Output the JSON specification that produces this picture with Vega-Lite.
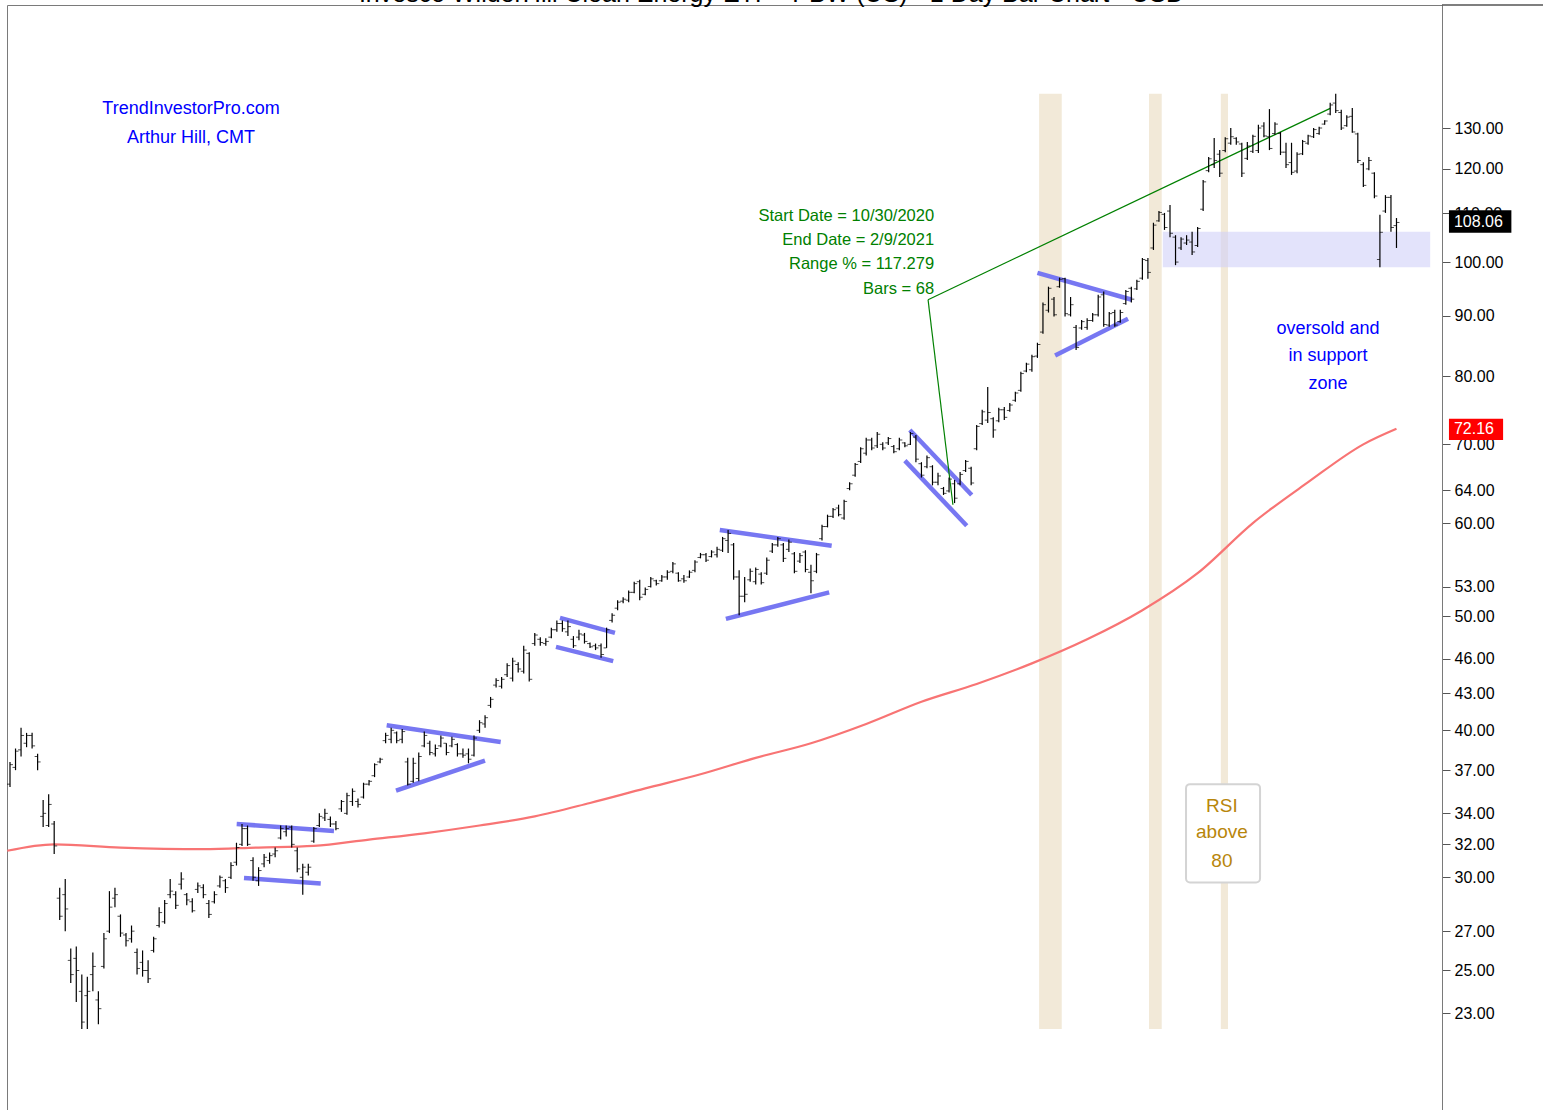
{
"$schema": "https://vega.github.io/schema/vega-lite/v6.json",
"width": 1435,
"height": 1106,
"autosize": "none",
"padding": {"left": 7, "top": 5, "right": 101, "bottom": 0},
"background": "white",
"config": {"view": {"stroke": "#7a7a7a", "strokeWidth": 1}, "font": "Liberation Sans"},
"title": {"text": "Invesco WilderHill Clean Energy ETF - PBW (US) - 1 Day Bar Chart - USD", "fontSize": 25, "fontWeight": "normal", "font": "Liberation Sans", "color": "#000000", "anchor": "middle", "frame": "group", "offset": 2, "dx": 47, "dy": 5},
"datasets": {
"bars": [
{"i":0,"o":36.0,"h":37.6,"l":35.8,"c":37.4},{"i":1,"o":37.2,"h":38.6,"l":37.0,"c":38.4},{"i":2,"o":38.5,"h":40.2,"l":38.0,"c":39.6},{"i":3,"o":39.0,"h":39.8,"l":38.7,"c":39.6},{"i":4,"o":39.6,"h":39.8,"l":38.6,"c":38.8},{"i":5,"o":38.0,"h":38.2,"l":37.0,"c":37.6},{"i":6,"o":33.8,"h":34.9,"l":33.1,"c":34.0},{"i":7,"o":33.2,"h":35.3,"l":33.1,"c":34.6},{"i":8,"o":33.3,"h":33.5,"l":31.4,"c":31.9},{"i":9,"o":28.8,"h":29.4,"l":27.6,"c":27.8},
{"i":10,"o":29.0,"h":29.9,"l":27.0,"c":28.2},{"i":11,"o":25.5,"h":26.1,"l":24.4,"c":24.8},{"i":12,"o":25.6,"h":26.2,"l":23.5,"c":25.0},{"i":13,"o":24.0,"h":24.8,"l":22.3,"c":22.6},{"i":14,"o":23.8,"h":24.7,"l":22.3,"c":24.0},{"i":15,"o":24.8,"h":25.9,"l":24.0,"c":25.2},{"i":16,"o":23.6,"h":24.0,"l":22.5,"c":23.2},{"i":17,"o":25.2,"h":26.9,"l":25.1,"c":26.6},{"i":18,"o":27.0,"h":29.2,"l":26.9,"c":28.3},{"i":19,"o":28.8,"h":29.4,"l":28.3,"c":29.0},
{"i":20,"o":27.8,"h":27.9,"l":26.7,"c":26.9},{"i":21,"o":26.8,"h":26.9,"l":26.2,"c":26.5},{"i":22,"o":26.6,"h":27.3,"l":26.4,"c":27.0},{"i":23,"o":25.9,"h":26.1,"l":24.8,"c":25.1},{"i":24,"o":25.4,"h":26.0,"l":24.7,"c":25.0},{"i":25,"o":25.0,"h":25.5,"l":24.4,"c":24.6},{"i":26,"o":26.0,"h":26.7,"l":25.9,"c":26.6},{"i":27,"o":27.3,"h":28.3,"l":27.2,"c":28.0},{"i":28,"o":27.5,"h":28.7,"l":27.4,"c":28.5},{"i":29,"o":29.0,"h":29.9,"l":28.8,"c":29.2},
{"i":30,"o":29.0,"h":29.2,"l":28.2,"c":28.4},{"i":31,"o":29.6,"h":30.3,"l":29.3,"c":29.9},{"i":32,"o":29.0,"h":29.1,"l":28.4,"c":28.7},{"i":33,"o":28.6,"h":28.8,"l":28.0,"c":28.1},{"i":34,"o":29.3,"h":29.7,"l":29.1,"c":29.5},{"i":35,"o":29.4,"h":29.6,"l":28.8,"c":29.0},{"i":36,"o":28.5,"h":28.7,"l":27.7,"c":27.9},{"i":37,"o":28.6,"h":29.2,"l":28.5,"c":29.0},{"i":38,"o":29.5,"h":30.1,"l":29.4,"c":30.0},{"i":39,"o":29.8,"h":29.9,"l":29.1,"c":29.4},
{"i":40,"o":30.0,"h":30.9,"l":29.9,"c":30.7},{"i":41,"o":30.9,"h":32.1,"l":30.7,"c":31.8},{"i":42,"o":32.0,"h":33.3,"l":31.9,"c":33.0},{"i":43,"o":33.0,"h":33.2,"l":31.9,"c":32.0},{"i":44,"o":31.0,"h":31.2,"l":29.8,"c":30.0},{"i":45,"o":29.8,"h":30.6,"l":29.5,"c":30.4},{"i":46,"o":30.8,"h":31.4,"l":30.6,"c":31.2},{"i":47,"o":31.0,"h":31.5,"l":30.8,"c":31.3},{"i":48,"o":31.4,"h":31.8,"l":31.2,"c":31.6},{"i":49,"o":32.4,"h":33.2,"l":32.3,"c":33.0},
{"i":50,"o":32.8,"h":33.2,"l":32.5,"c":33.0},{"i":51,"o":33.1,"h":33.2,"l":31.8,"c":32.0},{"i":52,"o":31.6,"h":31.8,"l":30.3,"c":30.5},{"i":53,"o":30.0,"h":30.8,"l":29.0,"c":30.6},{"i":54,"o":30.3,"h":30.8,"l":30.1,"c":30.6},{"i":55,"o":32.2,"h":33.1,"l":32.1,"c":33.0},{"i":56,"o":33.2,"h":34.0,"l":33.1,"c":33.8},{"i":57,"o":33.7,"h":34.3,"l":33.5,"c":34.0},{"i":58,"o":33.6,"h":33.8,"l":33.1,"c":33.3},{"i":59,"o":33.3,"h":33.5,"l":32.9,"c":33.0},
{"i":60,"o":34.3,"h":34.9,"l":34.1,"c":34.8},{"i":61,"o":34.0,"h":35.4,"l":33.9,"c":35.2},{"i":62,"o":34.8,"h":35.7,"l":34.5,"c":35.5},{"i":63,"o":34.8,"h":35.0,"l":34.4,"c":34.6},{"i":64,"o":35.1,"h":36.1,"l":35.0,"c":36.0},{"i":65,"o":36.0,"h":36.3,"l":35.9,"c":36.2},{"i":66,"o":36.6,"h":37.5,"l":36.5,"c":37.4},{"i":67,"o":37.6,"h":37.9,"l":37.5,"c":37.8},{"i":68,"o":39.2,"h":39.8,"l":39.0,"c":39.6},{"i":69,"o":39.3,"h":40.2,"l":39.0,"c":40.0},
{"i":70,"o":39.8,"h":39.9,"l":39.0,"c":39.2},{"i":71,"o":39.3,"h":40.1,"l":39.0,"c":39.9},{"i":72,"o":37.6,"h":37.9,"l":35.9,"c":36.0},{"i":73,"o":36.2,"h":37.9,"l":36.1,"c":37.5},{"i":74,"o":36.4,"h":38.3,"l":36.2,"c":38.0},{"i":75,"o":38.8,"h":39.9,"l":38.7,"c":39.6},{"i":76,"o":39.0,"h":39.2,"l":38.1,"c":38.3},{"i":77,"o":38.2,"h":38.9,"l":38.0,"c":38.6},{"i":78,"o":38.8,"h":39.6,"l":38.7,"c":39.4},{"i":79,"o":39.0,"h":39.0,"l":38.1,"c":38.3},
{"i":80,"o":38.8,"h":39.5,"l":38.7,"c":39.3},{"i":81,"o":38.9,"h":39.0,"l":38.0,"c":38.2},{"i":82,"o":38.2,"h":38.6,"l":37.9,"c":38.1},{"i":83,"o":38.2,"h":38.6,"l":37.5,"c":37.8},{"i":84,"o":38.1,"h":39.6,"l":38.0,"c":39.4},{"i":85,"o":40.0,"h":40.8,"l":39.8,"c":40.6},{"i":86,"o":40.5,"h":41.2,"l":40.2,"c":41.0},{"i":87,"o":42.0,"h":42.7,"l":41.8,"c":42.5},{"i":88,"o":43.7,"h":44.3,"l":43.5,"c":44.1},{"i":89,"o":43.6,"h":44.4,"l":43.4,"c":44.2},
{"i":90,"o":44.6,"h":45.6,"l":44.4,"c":45.4},{"i":91,"o":44.3,"h":46.1,"l":44.0,"c":45.8},{"i":92,"o":45.5,"h":45.7,"l":44.8,"c":45.1},{"i":93,"o":44.9,"h":47.2,"l":44.7,"c":46.8},{"i":94,"o":46.5,"h":46.6,"l":44.0,"c":44.2},{"i":95,"o":47.4,"h":48.4,"l":47.2,"c":48.2},{"i":96,"o":47.8,"h":48.0,"l":47.2,"c":47.5},{"i":97,"o":47.4,"h":47.9,"l":47.2,"c":47.6},{"i":98,"o":48.0,"h":48.9,"l":47.9,"c":48.7},{"i":99,"o":48.7,"h":49.6,"l":48.5,"c":49.3},
{"i":100,"o":49.3,"h":49.6,"l":48.5,"c":48.8},{"i":101,"o":48.5,"h":49.6,"l":48.1,"c":49.0},{"i":102,"o":47.8,"h":48.1,"l":47.0,"c":47.2},{"i":103,"o":48.0,"h":48.7,"l":47.7,"c":48.3},{"i":104,"o":48.2,"h":48.4,"l":47.4,"c":47.6},{"i":105,"o":47.4,"h":47.5,"l":47.0,"c":47.1},{"i":106,"o":47.2,"h":47.4,"l":46.8,"c":47.0},{"i":107,"o":47.2,"h":47.4,"l":46.1,"c":46.4},{"i":108,"o":47.0,"h":48.9,"l":47.0,"c":48.7},{"i":109,"o":49.6,"h":50.3,"l":49.4,"c":50.1},
{"i":110,"o":50.8,"h":51.6,"l":50.6,"c":51.4},{"i":111,"o":51.5,"h":51.9,"l":51.3,"c":51.7},{"i":112,"o":51.6,"h":52.6,"l":51.4,"c":52.4},{"i":113,"o":52.4,"h":53.5,"l":52.3,"c":53.3},{"i":114,"o":53.5,"h":53.7,"l":51.6,"c":51.9},{"i":115,"o":52.2,"h":52.9,"l":52.1,"c":52.7},{"i":116,"o":53.0,"h":54.0,"l":52.9,"c":53.8},{"i":117,"o":53.6,"h":53.7,"l":53.1,"c":53.3},{"i":118,"o":53.6,"h":54.2,"l":53.5,"c":54.0},{"i":119,"o":54.0,"h":54.7,"l":53.7,"c":54.5},
{"i":120,"o":54.6,"h":55.6,"l":54.4,"c":55.4},{"i":121,"o":54.4,"h":54.5,"l":53.5,"c":53.6},{"i":122,"o":53.8,"h":54.2,"l":53.4,"c":53.6},{"i":123,"o":54.0,"h":54.7,"l":53.9,"c":54.5},{"i":124,"o":54.7,"h":55.8,"l":54.5,"c":55.6},{"i":125,"o":56.1,"h":56.6,"l":56.0,"c":56.4},{"i":126,"o":56.4,"h":56.6,"l":55.6,"c":55.8},{"i":127,"o":56.2,"h":56.9,"l":56.1,"c":56.7},{"i":128,"o":56.4,"h":57.3,"l":56.1,"c":57.0},{"i":129,"o":56.9,"h":58.4,"l":56.7,"c":58.2},
{"i":130,"o":58.0,"h":59.2,"l":56.6,"c":58.8},{"i":131,"o":57.5,"h":57.7,"l":53.7,"c":54.0},{"i":132,"o":54.0,"h":54.7,"l":50.1,"c":52.0},{"i":133,"o":52.0,"h":54.0,"l":51.4,"c":52.2},{"i":134,"o":53.7,"h":54.9,"l":53.5,"c":54.6},{"i":135,"o":53.5,"h":55.0,"l":53.2,"c":54.8},{"i":136,"o":54.3,"h":54.5,"l":53.2,"c":53.4},{"i":137,"o":54.4,"h":56.1,"l":54.2,"c":55.8},{"i":138,"o":56.8,"h":57.7,"l":56.6,"c":57.5},{"i":139,"o":57.5,"h":58.4,"l":57.3,"c":58.2},
{"i":140,"o":57.5,"h":57.7,"l":55.6,"c":56.0},{"i":141,"o":57.0,"h":58.1,"l":56.7,"c":57.8},{"i":142,"o":56.5,"h":56.7,"l":54.4,"c":54.6},{"i":143,"o":55.7,"h":56.6,"l":55.5,"c":56.3},{"i":144,"o":56.7,"h":56.9,"l":54.5,"c":54.8},{"i":145,"o":54.5,"h":55.3,"l":52.3,"c":53.6},{"i":146,"o":54.6,"h":56.6,"l":54.4,"c":56.4},{"i":147,"o":58.2,"h":59.8,"l":58.0,"c":59.6},{"i":148,"o":59.6,"h":61.0,"l":59.5,"c":60.8},{"i":149,"o":60.8,"h":61.8,"l":60.6,"c":61.6},
{"i":150,"o":61.8,"h":62.2,"l":60.8,"c":61.0},{"i":151,"o":60.6,"h":62.8,"l":60.4,"c":62.6},{"i":152,"o":64.2,"h":65.0,"l":64.0,"c":64.8},{"i":153,"o":65.9,"h":67.5,"l":65.7,"c":67.3},{"i":154,"o":67.7,"h":69.6,"l":67.5,"c":69.4},{"i":155,"o":68.8,"h":70.9,"l":68.5,"c":70.6},{"i":156,"o":70.6,"h":70.9,"l":69.2,"c":69.5},{"i":157,"o":69.8,"h":71.7,"l":69.5,"c":71.4},{"i":158,"o":70.0,"h":70.3,"l":69.2,"c":69.5},{"i":159,"o":70.2,"h":71.0,"l":69.9,"c":70.8},
{"i":160,"o":69.7,"h":69.9,"l":68.8,"c":69.0},{"i":161,"o":69.4,"h":70.9,"l":69.2,"c":70.6},{"i":162,"o":70.2,"h":70.3,"l":69.6,"c":69.8},{"i":163,"o":70.0,"h":71.7,"l":69.9,"c":71.5},{"i":164,"o":71.0,"h":71.3,"l":67.6,"c":68.0},{"i":165,"o":67.4,"h":67.6,"l":65.6,"c":65.9},{"i":166,"o":67.0,"h":68.5,"l":66.8,"c":68.2},{"i":167,"o":67.0,"h":67.2,"l":64.6,"c":65.0},{"i":168,"o":65.0,"h":66.2,"l":64.6,"c":65.8},{"i":169,"o":64.2,"h":64.4,"l":63.4,"c":63.6},
{"i":170,"o":63.9,"h":65.6,"l":63.7,"c":65.4},{"i":171,"o":64.8,"h":65.3,"l":62.4,"c":63.0},{"i":172,"o":64.8,"h":66.3,"l":64.6,"c":66.0},{"i":173,"o":66.5,"h":67.9,"l":66.3,"c":67.7},{"i":174,"o":66.8,"h":67.0,"l":64.6,"c":64.9},{"i":175,"o":69.4,"h":72.7,"l":69.2,"c":72.5},{"i":176,"o":72.9,"h":74.9,"l":72.7,"c":74.6},{"i":177,"o":73.4,"h":78.3,"l":73.0,"c":74.5},{"i":178,"o":73.6,"h":73.8,"l":70.9,"c":72.0},{"i":179,"o":73.3,"h":75.2,"l":73.1,"c":74.9},
{"i":180,"o":74.9,"h":75.3,"l":73.4,"c":73.8},{"i":181,"o":74.8,"h":75.9,"l":74.6,"c":75.6},{"i":182,"o":76.3,"h":77.6,"l":76.1,"c":77.4},{"i":183,"o":77.8,"h":80.7,"l":77.6,"c":80.4},{"i":184,"o":80.8,"h":82.1,"l":80.6,"c":81.9},{"i":185,"o":81.0,"h":83.4,"l":80.7,"c":83.1},{"i":186,"o":83.2,"h":85.4,"l":82.9,"c":85.1},{"i":187,"o":87.2,"h":92.4,"l":86.9,"c":92.0},{"i":188,"o":91.0,"h":95.3,"l":90.6,"c":95.0},{"i":189,"o":93.0,"h":93.4,"l":89.9,"c":90.2},
{"i":190,"o":95.3,"h":97.0,"l":95.1,"c":96.7},{"i":191,"o":96.8,"h":97.0,"l":89.9,"c":90.4},{"i":192,"o":90.2,"h":93.4,"l":89.9,"c":92.0},{"i":193,"o":88.0,"h":88.4,"l":84.2,"c":84.6},{"i":194,"o":87.9,"h":89.3,"l":87.6,"c":89.0},{"i":195,"o":88.0,"h":89.6,"l":87.6,"c":89.2},{"i":196,"o":89.2,"h":90.5,"l":89.0,"c":90.2},{"i":197,"o":90.2,"h":93.8,"l":89.9,"c":93.4},{"i":198,"o":93.8,"h":94.4,"l":88.1,"c":88.5},{"i":199,"o":88.4,"h":90.7,"l":88.1,"c":90.4},
{"i":200,"o":90.6,"h":91.1,"l":88.1,"c":88.4},{"i":201,"o":89.0,"h":91.1,"l":88.8,"c":90.6},{"i":202,"o":92.2,"h":94.7,"l":92.0,"c":94.4},{"i":203,"o":95.0,"h":95.3,"l":92.4,"c":93.0},{"i":204,"o":94.9,"h":96.6,"l":94.7,"c":96.3},{"i":205,"o":96.9,"h":100.8,"l":96.6,"c":100.5},{"i":206,"o":100.3,"h":100.8,"l":96.8,"c":98.0},{"i":207,"o":102.8,"h":108.0,"l":102.4,"c":107.5},{"i":208,"o":108.4,"h":110.5,"l":108.2,"c":110.2},{"i":209,"o":109.8,"h":110.1,"l":106.5,"c":107.0},
{"i":210,"o":110.5,"h":111.8,"l":105.0,"c":105.8},{"i":211,"o":105.0,"h":105.4,"l":99.4,"c":100.0},{"i":212,"o":102.8,"h":105.0,"l":102.4,"c":104.6},{"i":213,"o":103.8,"h":105.4,"l":103.4,"c":104.4},{"i":214,"o":104.0,"h":106.1,"l":101.4,"c":102.0},{"i":215,"o":103.3,"h":107.1,"l":103.0,"c":106.8},{"i":216,"o":110.9,"h":117.4,"l":110.5,"c":117.0},{"i":217,"o":119.6,"h":122.8,"l":119.2,"c":122.4},{"i":218,"o":121.0,"h":127.5,"l":120.2,"c":122.0},{"i":219,"o":123.5,"h":124.5,"l":118.1,"c":119.0},
{"i":220,"o":124.4,"h":127.7,"l":124.0,"c":127.3},{"i":221,"o":126.2,"h":130.0,"l":125.8,"c":127.8},{"i":222,"o":127.4,"h":127.7,"l":125.8,"c":126.5},{"i":223,"o":126.0,"h":126.3,"l":118.1,"c":119.0},{"i":224,"o":122.5,"h":126.5,"l":122.1,"c":125.5},{"i":225,"o":124.2,"h":128.3,"l":123.8,"c":127.9},{"i":226,"o":124.4,"h":130.8,"l":123.8,"c":130.0},{"i":227,"o":130.5,"h":131.5,"l":127.7,"c":128.0},{"i":228,"o":127.8,"h":134.9,"l":124.5,"c":124.9},{"i":229,"o":128.6,"h":131.5,"l":128.3,"c":131.0},
{"i":230,"o":128.6,"h":129.0,"l":123.3,"c":124.0},{"i":231,"o":124.0,"h":126.3,"l":120.2,"c":121.0},{"i":232,"o":121.5,"h":126.3,"l":118.6,"c":119.2},{"i":233,"o":119.5,"h":124.0,"l":119.0,"c":123.5},{"i":234,"o":123.6,"h":127.0,"l":123.3,"c":126.6},{"i":235,"o":126.2,"h":128.3,"l":125.8,"c":128.0},{"i":236,"o":127.8,"h":130.0,"l":127.5,"c":129.6},{"i":237,"o":128.6,"h":130.3,"l":128.3,"c":130.0},{"i":238,"o":131.0,"h":132.0,"l":130.8,"c":131.8},{"i":239,"o":133.6,"h":136.6,"l":133.3,"c":136.0},
{"i":240,"o":136.5,"h":139.0,"l":133.9,"c":134.5},{"i":241,"o":134.0,"h":134.7,"l":129.5,"c":130.0},{"i":242,"o":130.6,"h":133.3,"l":130.3,"c":132.8},{"i":243,"o":133.0,"h":135.2,"l":128.8,"c":129.0},{"i":244,"o":128.5,"h":128.8,"l":121.4,"c":122.0},{"i":245,"o":121.0,"h":121.6,"l":115.8,"c":116.2},{"i":246,"o":120.0,"h":122.8,"l":119.7,"c":122.0},{"i":247,"o":119.0,"h":119.2,"l":113.3,"c":113.8},{"i":248,"o":100.5,"h":109.7,"l":99.0,"c":106.0},{"i":249,"o":110.5,"h":114.0,"l":110.1,"c":113.5},
{"i":250,"o":113.5,"h":114.0,"l":106.1,"c":107.0},{"i":251,"o":107.4,"h":109.0,"l":102.8,"c":108.06}
],
"ma": [
{"i":-0.5,"ma":31.6},{"i":8,"ma":32.0},{"i":20,"ma":31.8},{"i":35,"ma":31.7},{"i":45,"ma":31.8},{"i":55,"ma":31.9},{"i":65,"ma":32.3},{"i":75,"ma":32.7},{"i":85,"ma":33.2},{"i":95,"ma":33.8},{"i":105,"ma":34.7},{"i":115,"ma":35.7},{"i":125,"ma":36.7},{"i":135,"ma":37.9},{"i":145,"ma":39.0},{"i":155,"ma":40.5},{"i":165,"ma":42.3},{"i":175,"ma":43.8},{"i":185,"ma":45.6},{"i":195,"ma":47.8},{"i":205,"ma":50.6},{"i":215,"ma":54.4},{"i":225,"ma":60.0},{"i":235,"ma":65.0},{"i":245,"ma":70.0},{"i":251,"ma":72.16}
],
"trend": [
{"i1":41.04,"v1":33.3,"i2":58.65,"v2":32.85},{"i1":42.36,"v1":29.96,"i2":56.25,"v2":29.64},{"i1":68.19,"v1":40.4,"i2":88.83,"v2":39.1},{"i1":69.88,"v1":35.55,"i2":85.99,"v2":37.7},{"i1":99.57,"v1":49.85,"i2":109.52,"v2":48.4},{"i1":98.84,"v1":47.1,"i2":109.2,"v2":45.8},{"i1":128.5,"v1":59.2,"i2":148.75,"v2":57.4},{"i1":129.6,"v1":49.75,"i2":148.3,"v2":52.4},{"i1":162.9,"v1":72.0,"i2":174.1,"v2":63.4},{"i1":162.0,"v1":67.8,"i2":173.2,"v2":59.7},{"i1":186.0,"v1":97.9,"i2":203.1,"v2":92.9},{"i1":189.2,"v1":83.3,"i2":202.4,"v2":89.5}
],
"range": [
{"i1":166.2,"v1":92.9,"i2":170.7,"v2":62.2},{"i1":166.2,"v1":92.9,"i2":239.0,"v2":135.1}
],
"bands": [
{"a":186.3,"b":190.4,"lo":22.3,"hi":139.0},{"a":206.2,"b":208.5,"lo":22.3,"hi":139.0},{"a":219.2,"b":220.5,"lo":22.3,"hi":139.0}
],
"zone": [{"a":208.7,"b":257.1,"lo":99.0,"hi":106.1}],
"rsibox": [{"a":212.9,"b":226.3,"lo":29.7,"hi":36.0}],
"brand": [{"t":"TrendInvestorPro.com","i":32.77,"v":134.8},{"t":"Arthur Hill, CMT","i":32.77,"v":127.6}],
"measure": [{"t":"Start Date = 10/30/2020","i":167.3,"v":109.4},{"t":"End Date = 2/9/2021","i":167.3,"v":104.4},{"t":"Range % = 117.279","i":167.3,"v":99.6},{"t":"Bars = 68","i":167.3,"v":94.9}],
"oversold": [{"t":"oversold and","i":238.6,"v":87.7},{"t":"in support","i":238.6,"v":83.2},{"t":"zone","i":238.6,"v":78.7}],
"rsi": [{"t":"RSI","i":219.4,"v":34.5},{"t":"above","i":219.4,"v":32.8},{"t":"80","i":219.4,"v":31.0}],
"lastbox": [{"a":260.5,"b":271.8,"lo":105.9,"hi":110.7,"t":"108.06","v":108.06}],
"mabox": [{"a":260.5,"b":270.3,"lo":70.6,"hi":73.6,"t":"72.16","v":72.16}],
"topedge": [{"a":259.24,"b":282,"v":165.38}]
},
"layer": [
{"data": {"name": "bands"}, "mark": {"type": "rect", "color": "#f2e9d8"},
 "encoding": {"x": {"field": "a", "type": "quantitative", "scale": {"domain": [-0.543, 259.24], "nice": false, "zero": false}, "axis": null}, "x2": {"field": "b"},
  "y": {"field": "lo", "type": "quantitative", "scale": {"type": "log", "domain": [18.99, 165.38], "nice": false}, "title": null,
   "axis": {"orient": "right", "values": [23,25,27,30,32,34,37,40,43,46,50,53,60,64,70,80,90,100,110,120,130], "format": ".2f", "labelFont": "Liberation Sans", "labelFontSize": 16, "labelColor": "#000000", "tickColor": "#555555", "tickSize": 8, "domainColor": "#7a7a7a", "grid": false, "labelPadding": 4, "title": null, "labelFlush": false, "labelOverlap": false, "labelBound": false}},
  "y2": {"field": "hi"}}},
{"data": {"name": "zone"}, "mark": {"type": "rect", "color": "#d0d0f8", "opacity": 0.6},
 "encoding": {"x": {"field": "a", "type": "quantitative", "axis": null}, "x2": {"field": "b"}, "y": {"field": "lo", "type": "quantitative", "title": null}, "y2": {"field": "hi"}}},
{"data": {"name": "ma"}, "mark": {"type": "line", "color": "#f87474", "strokeWidth": 2.2, "interpolate": "monotone"},
 "encoding": {"x": {"field": "i", "type": "quantitative", "axis": null}, "y": {"field": "ma", "type": "quantitative", "title": null}}},
{"data": {"name": "trend"}, "mark": {"type": "rule", "color": "#7777f2", "strokeWidth": 4.5},
 "encoding": {"x": {"field": "i1", "type": "quantitative", "axis": null}, "x2": {"field": "i2"}, "y": {"field": "v1", "type": "quantitative", "title": null}, "y2": {"field": "v2"}}},
{"data": {"name": "range"}, "mark": {"type": "rule", "color": "#008000", "strokeWidth": 1.2},
 "encoding": {"x": {"field": "i1", "type": "quantitative", "axis": null}, "x2": {"field": "i2"}, "y": {"field": "v1", "type": "quantitative", "title": null}, "y2": {"field": "v2"}}},
{"data": {"name": "bars"}, "mark": {"type": "rule", "color": "#000000", "strokeWidth": 1.2},
 "encoding": {"x": {"field": "i", "type": "quantitative", "axis": null}, "y": {"field": "l", "type": "quantitative", "title": null}, "y2": {"field": "h"}}},
{"data": {"name": "bars"}, "mark": {"type": "tick", "orient": "horizontal", "color": "#000000", "size": 3, "thickness": 1, "xOffset": -1.5},
 "encoding": {"x": {"field": "i", "type": "quantitative", "axis": null}, "y": {"field": "o", "type": "quantitative", "title": null}}},
{"data": {"name": "bars"}, "mark": {"type": "tick", "orient": "horizontal", "color": "#000000", "size": 3, "thickness": 1, "xOffset": 1.5},
 "encoding": {"x": {"field": "i", "type": "quantitative", "axis": null}, "y": {"field": "c", "type": "quantitative", "title": null}}},
{"data": {"name": "brand"}, "mark": {"type": "text", "color": "#0000ff", "fontSize": 18, "font": "Liberation Sans", "align": "center", "baseline": "middle"},
 "encoding": {"x": {"field": "i", "type": "quantitative", "axis": null}, "y": {"field": "v", "type": "quantitative", "title": null}, "text": {"field": "t"}}},
{"data": {"name": "measure"}, "mark": {"type": "text", "color": "#008000", "fontSize": 16.5, "font": "Liberation Sans", "align": "right", "baseline": "middle"},
 "encoding": {"x": {"field": "i", "type": "quantitative", "axis": null}, "y": {"field": "v", "type": "quantitative", "title": null}, "text": {"field": "t"}}},
{"data": {"name": "oversold"}, "mark": {"type": "text", "color": "#0000ff", "fontSize": 18, "font": "Liberation Sans", "align": "center", "baseline": "middle"},
 "encoding": {"x": {"field": "i", "type": "quantitative", "axis": null}, "y": {"field": "v", "type": "quantitative", "title": null}, "text": {"field": "t"}}},
{"data": {"name": "rsibox"}, "mark": {"type": "rect", "fill": "#ffffff", "stroke": "#d4d4d4", "strokeWidth": 2, "cornerRadius": 4},
 "encoding": {"x": {"field": "a", "type": "quantitative", "axis": null}, "x2": {"field": "b"}, "y": {"field": "lo", "type": "quantitative", "title": null}, "y2": {"field": "hi"}}},
{"data": {"name": "rsi"}, "mark": {"type": "text", "color": "#b8860b", "fontSize": 19, "font": "Liberation Sans", "align": "center", "baseline": "middle"},
 "encoding": {"x": {"field": "i", "type": "quantitative", "axis": null}, "y": {"field": "v", "type": "quantitative", "title": null}, "text": {"field": "t"}}},
{"data": {"name": "topedge"}, "mark": {"type": "rule", "color": "#555555", "strokeWidth": 1.5, "clip": false},
 "encoding": {"x": {"field": "a", "type": "quantitative", "axis": null}, "x2": {"field": "b"}, "y": {"field": "v", "type": "quantitative", "title": null}}},
{"data": {"name": "lastbox"}, "mark": {"type": "rect", "color": "#000000", "clip": false},
 "encoding": {"x": {"field": "a", "type": "quantitative", "axis": null}, "x2": {"field": "b"}, "y": {"field": "lo", "type": "quantitative", "title": null}, "y2": {"field": "hi"}}},
{"data": {"name": "lastbox"}, "mark": {"type": "text", "color": "#ffffff", "fontSize": 16, "font": "Liberation Sans", "align": "left", "baseline": "middle", "dx": 5, "clip": false},
 "encoding": {"x": {"field": "a", "type": "quantitative", "axis": null}, "y": {"field": "v", "type": "quantitative", "title": null}, "text": {"field": "t"}}},
{"data": {"name": "mabox"}, "mark": {"type": "rect", "color": "#ff0000", "clip": false},
 "encoding": {"x": {"field": "a", "type": "quantitative", "axis": null}, "x2": {"field": "b"}, "y": {"field": "lo", "type": "quantitative", "title": null}, "y2": {"field": "hi"}}},
{"data": {"name": "mabox"}, "mark": {"type": "text", "color": "#ffffff", "fontSize": 16, "font": "Liberation Sans", "align": "left", "baseline": "middle", "dx": 5, "clip": false},
 "encoding": {"x": {"field": "a", "type": "quantitative", "axis": null}, "y": {"field": "v", "type": "quantitative", "title": null}, "text": {"field": "t"}}}
]
}
